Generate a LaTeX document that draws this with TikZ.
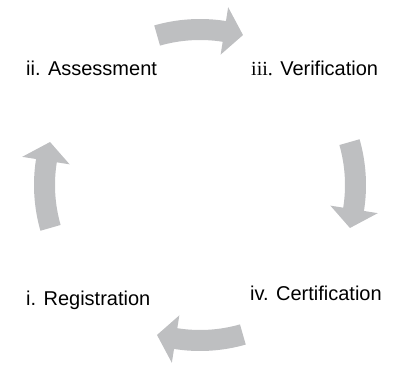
\documentclass[tikz,border=0pt]{standalone}
\usepackage{fontspec}
\setmainfont{Liberation Sans}
\newfontfamily\romannum{Liberation Serif}
\usetikzlibrary{positioning,calc}
\definecolor{cyclegrey}{RGB}{190,191,193}
\tikzset{font=\fontsize{20}{24}\selectfont}

\begin{document}
\begin{tikzpicture}[x=1pt, y=1pt]
	\useasboundingbox (-198,-181) rectangle (196,185);
	\begin{scope}
		\tikzstyle{every node}=[anchor=base west, inner sep=0pt]
		\node (reg) at (-172,-121) {i. Registration};
		\node (ass) at (-172, 109) {ii. Assessment};
		\node (ver) at (  53, 109) {{\romannum iii.} Verification};
		\node (cer) at (  52,-116) {iv. Certification};
	\end{scope}
	% curved arrows, clockwise
	\begin{scope}[shift={(2,0)}]
	\foreach \a in {90,0,-90,180} {
		\pgfmathsetmacro{\s}{\a+16}
		\pgfmathsetmacro{\h}{\a-9}
		\pgfmathsetmacro{\e}{\a-16}
		\fill[cyclegrey] (\s:166pt) arc[start angle=\s, end angle=\h, radius=166pt]
			-- (\h:180pt) -- (\e:156pt) -- (\h:132pt) -- (\h:145pt)
			arc[start angle=\h, end angle=\s, radius=145pt] -- cycle;
	}
	\end{scope}
\end{tikzpicture}
\end{document}
